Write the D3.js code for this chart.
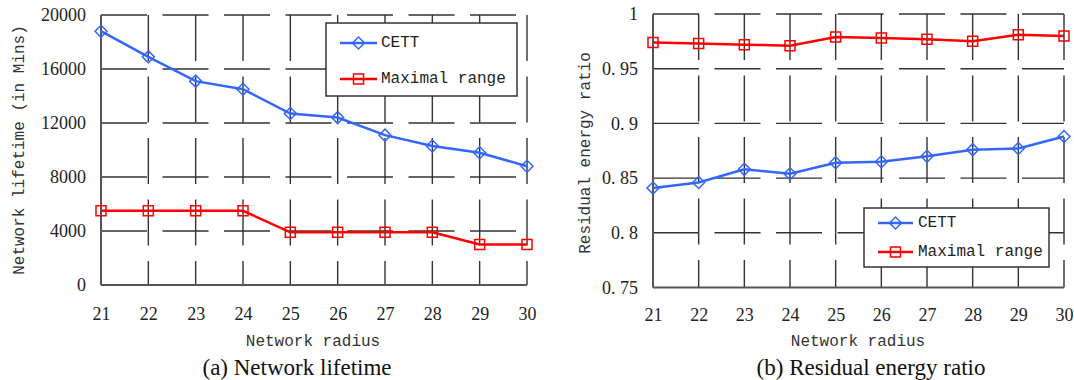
<!DOCTYPE html>
<html>
<head>
<meta charset="utf-8">
<script src="https://cdn.jsdelivr.net/npm/d3@7"></script>
<style>
  body { margin: 0; background: #fff; }
  svg { display: block; }
</style>
</head>
<body>
<svg id="chart" width="1074" height="380"></svg>
<script>
// data
const radius = [21, 22, 23, 24, 25, 26, 27, 28, 29, 30];
const lifetimeCETT = [18800, 16900, 15100, 14500, 12700, 12400, 11100, 10300, 9800, 8800];
const lifetimeMax = [5500, 5500, 5500, 5500, 3900, 3900, 3900, 3900, 3000, 3000];
const energyCETT = [0.841, 0.846, 0.858, 0.854, 0.864, 0.865, 0.870, 0.876, 0.877, 0.888];
const energyMax = [0.974, 0.973, 0.972, 0.971, 0.979, 0.978, 0.977, 0.975, 0.981, 0.980];
const lifetimeTicks = [0, 4000, 8000, 12000, 16000, 20000];
const energyTicks = [0.75, 0.8, 0.85, 0.9, 0.95, 1];
const seriesNames = ["CETT", "Maximal range"];

const blue = "#3366ff", red = "#ff0000";
const mono = "'Liberation Mono', 'DejaVu Sans Mono', monospace";
const serif = "'Liberation Serif', 'DejaVu Serif', serif";
const dash = "46,15.5";

const svg = d3.select("#chart");

function drawPanel(p) {
  const x = d3.scaleLinear().domain([21, 30]).range([p.left, p.right]);
  const y = d3.scaleLinear().domain(p.domain).range([p.bottom, p.top]);
  const g = svg.append("g");

  // dashed grid
  g.selectAll(".hgrid").data(p.ticks.slice(1)).enter().append("line")
    .attr("x1", p.left).attr("x2", p.right)
    .attr("y1", d => y(d)).attr("y2", d => y(d))
    .attr("stroke", "#333").attr("stroke-width", 1.4)
    .attr("stroke-dasharray", dash);
  g.selectAll(".vgrid").data(radius.slice(1)).enter().append("line")
    .attr("x1", d => x(d)).attr("x2", d => x(d))
    .attr("y1", p.top).attr("y2", p.bottom)
    .attr("stroke", "#333").attr("stroke-width", 1.4)
    .attr("stroke-dasharray", dash);

  // solid left and bottom axes
  g.append("line").attr("x1", p.left).attr("x2", p.left)
    .attr("y1", p.top).attr("y2", p.bottom)
    .attr("stroke", "#555").attr("stroke-width", 2);
  g.append("line").attr("x1", p.left).attr("x2", p.right)
    .attr("y1", p.bottom).attr("y2", p.bottom)
    .attr("stroke", "#555").attr("stroke-width", 2);

  // tick labels
  const ya = g.append("g").attr("transform", "translate(" + p.left + ",0)")
    .call(d3.axisLeft(y).tickValues(p.ticks).tickSize(0).tickPadding(15).tickFormat(p.fmt));
  ya.select(".domain").remove();
  ya.selectAll("text").attr("font-family", serif).attr("font-size", 18).attr("fill", "#222");

  const xa = g.append("g").attr("transform", "translate(0," + p.bottom + ")")
    .call(d3.axisBottom(x).tickValues(radius).tickSize(0).tickPadding(p.xpad).tickFormat(d3.format("d")));
  xa.select(".domain").remove();
  xa.selectAll("text").attr("font-family", serif).attr("font-size", 18).attr("fill", "#222");

  // axis titles
  g.append("text").attr("transform", "translate(" + p.ytx + "," + p.yty + ") rotate(-90)")
    .attr("text-anchor", "middle").attr("dominant-baseline", "central")
    .attr("font-family", mono).attr("font-size", 16).attr("fill", "#333")
    .text(p.ytitle);
  g.append("text").attr("x", p.xtx).attr("y", 342)
    .attr("text-anchor", "middle").attr("dominant-baseline", "central")
    .attr("font-family", mono).attr("font-size", 16).attr("fill", "#333")
    .text("Network radius");
  g.append("text").attr("x", p.capx).attr("y", 375)
    .attr("text-anchor", "middle")
    .attr("font-family", serif).attr("font-size", 23).attr("fill", "#111")
    .text(p.caption);

  // series
  const line = d3.line().x((d, i) => x(radius[i])).y(d => y(d));
  const series = [
    { vals: p.cett, color: blue, sym: "diamond" },
    { vals: p.max, color: red, sym: "square" }
  ];
  series.forEach(s => {
    g.append("path").datum(s.vals)
      .attr("fill", "none").attr("stroke", s.color).attr("stroke-width", 2.5)
      .attr("d", line);
    g.selectAll(null).data(s.vals).enter().append("path")
      .attr("d", marker(s.sym))
      .attr("transform", (d, i) => "translate(" + x(radius[i]) + "," + y(d) + ")" + (s.sym === "diamond" ? " rotate(45)" : ""))
      .attr("fill", "none").attr("stroke", s.color).attr("stroke-width", 1.5);
  });

  // legend
  const L = p.legend;
  g.append("rect").attr("x", L.x0).attr("y", L.y0)
    .attr("width", L.x1 - L.x0).attr("height", L.y1 - L.y0)
    .attr("fill", "#fff").attr("stroke", "#333").attr("stroke-width", 1.5);
  series.forEach((s, k) => {
    const ly = L.rows[k];
    g.append("line").attr("x1", L.lx0).attr("x2", L.lx1)
      .attr("y1", ly).attr("y2", ly)
      .attr("stroke", s.color).attr("stroke-width", 2.5);
    g.append("path").attr("d", marker(s.sym))
      .attr("transform", "translate(" + (L.lx0 + L.lx1) / 2 + "," + ly + ")" + (s.sym === "diamond" ? " rotate(45)" : ""))
      .attr("fill", "none").attr("stroke", s.color).attr("stroke-width", 1.5);
    g.append("text").attr("x", L.tx).attr("y", ly)
      .attr("dominant-baseline", "central")
      .attr("font-family", mono).attr("font-size", 16).attr("fill", "#222")
      .text(seriesNames[k]);
  });
}

function marker(sym) {
  return d3.symbol().type(d3.symbolSquare).size(sym === "diamond" ? 72 : 100)();
}

drawPanel({
  left: 101, right: 527, top: 15, bottom: 285,
  domain: [0, 20000], ticks: lifetimeTicks, fmt: d3.format("d"),
  cett: lifetimeCETT, max: lifetimeMax, xpad: 22,
  ytitle: "Network lifetime (in Mins)", ytx: 20, yty: 150,
  xtx: 313, capx: 297, caption: "(a) Network lifetime",
  legend: { x0: 326, x1: 517, y0: 23, y1: 96, lx0: 340, lx1: 377, tx: 381, rows: [43, 79] }
});

drawPanel({
  left: 653, right: 1064, top: 14, bottom: 287.5,
  domain: [0.75, 1], ticks: energyTicks,
  fmt: d => d3.format(".2~f")(d).replace(".", ". "),
  cett: energyCETT, max: energyMax, xpad: 21,
  ytitle: "Residual energy ratio", ytx: 586, yty: 153,
  xtx: 858, capx: 871, caption: "(b) Residual energy ratio",
  legend: { x0: 864, x1: 1049, y0: 208, y1: 267, lx0: 878, lx1: 913, tx: 918, rows: [223, 252] }
});
</script>
</body>
</html>
